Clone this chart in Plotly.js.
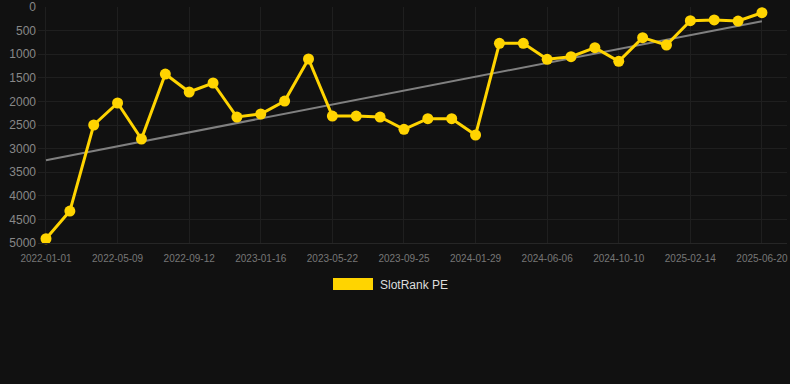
<!DOCTYPE html>
<html>
<head>
<meta charset="utf-8">
<script src="https://cdn.plot.ly/plotly-3.0.1.min.js"></script>
<style>
html,body{margin:0;padding:0;background:#111111;}
#chart{width:790px;height:384px;}
</style>
</head>
<body>
<div id="chart"></div>
<script>
const dates = ["2022-01-01","2022-02-12","2022-03-26","2022-05-09","2022-06-20","2022-08-01","2022-09-12","2022-10-24","2022-12-05","2023-01-16","2023-02-27","2023-04-10","2023-05-22","2023-07-03","2023-08-14","2023-09-25","2023-11-06","2023-12-18","2024-01-29","2024-03-11","2024-04-24","2024-06-06","2024-07-18","2024-08-29","2024-10-10","2024-11-21","2025-01-02","2025-02-14","2025-03-28","2025-05-09","2025-06-20"];
const rankValues = [4910,4323,2500,2034,2797,1420,1801,1610,2331,2267,1992,1102,2310,2310,2331,2592,2367,2367,2712,769,769,1108,1053,862,1151,650,805,290,275,297,121];
const trendDates = ["2022-01-01","2025-06-20"];
const trendValues = [3245,300];
const tickLabels = ["2022-01-01","2022-05-09","2022-09-12","2023-01-16","2023-05-22","2023-09-25","2024-01-29","2024-06-06","2024-10-10","2025-02-14","2025-06-20"];
const yTicks = [0,500,1000,1500,2000,2500,3000,3500,4000,4500,5000];
const seriesName = "SlotRank PE";

const yellow = "#FFD400";
const plotBottom = 243, plotH = 236, plotLeft = 38, plotW = 749;
const px = X => (X - plotLeft) / plotW;
const py = Y => (plotBottom - Y) / plotH;

const traces = [
  {
    x: trendDates, y: trendValues, type: "scatter", mode: "lines",
    line: {color: "#808080", width: 2}, hoverinfo: "skip", showlegend: false
  },
  {
    x: dates, y: rankValues, type: "scatter", mode: "lines+markers", name: seriesName,
    line: {color: yellow, width: 3}, marker: {color: yellow, size: 11},
    showlegend: false, cliponaxis: false
  }
];
const layout = {
  width: 790, height: 384,
  paper_bgcolor: "#111111", plot_bgcolor: "#111111",
  margin: {l: 38, r: 3, t: 7, b: 141},
  showlegend: false,
  font: {family: "Liberation Sans, Arial, sans-serif", color: "#888"},
  xaxis: {
    type: "category", categoryorder: "array", categoryarray: dates,
    range: [-0.335, 31.05],
    tickmode: "array", tickvals: tickLabels, ticktext: tickLabels,
    showgrid: true, gridcolor: "#1f1f1f", gridwidth: 1,
    zeroline: false, showline: true, linecolor: "#262626",
    ticks: "", tickfont: {size: 10, color: "#777"}, ticklabelstandoff: 6
  },
  yaxis: {
    range: [5000, 0], tickmode: "array", tickvals: yTicks,
    showgrid: true, gridcolor: "#1f1f1f", gridwidth: 1,
    zeroline: false, showline: false,
    ticks: "", tickfont: {size: 12, color: "#888"}, ticklabelstandoff: 1
  },
  shapes: [
    {type: "rect", xref: "paper", yref: "paper",
     x0: px(333), x1: px(373), y0: py(290), y1: py(278),
     fillcolor: yellow, line: {width: 0}}
  ],
  annotations: [
    {xref: "paper", yref: "paper", x: px(378), y: py(285),
     xanchor: "left", yanchor: "middle", showarrow: false,
     text: seriesName, font: {size: 12, color: "#dddddd"}}
  ]
};
Plotly.newPlot("chart", traces, layout, {displayModeBar: false, staticPlot: true});
</script>
</body>
</html>
